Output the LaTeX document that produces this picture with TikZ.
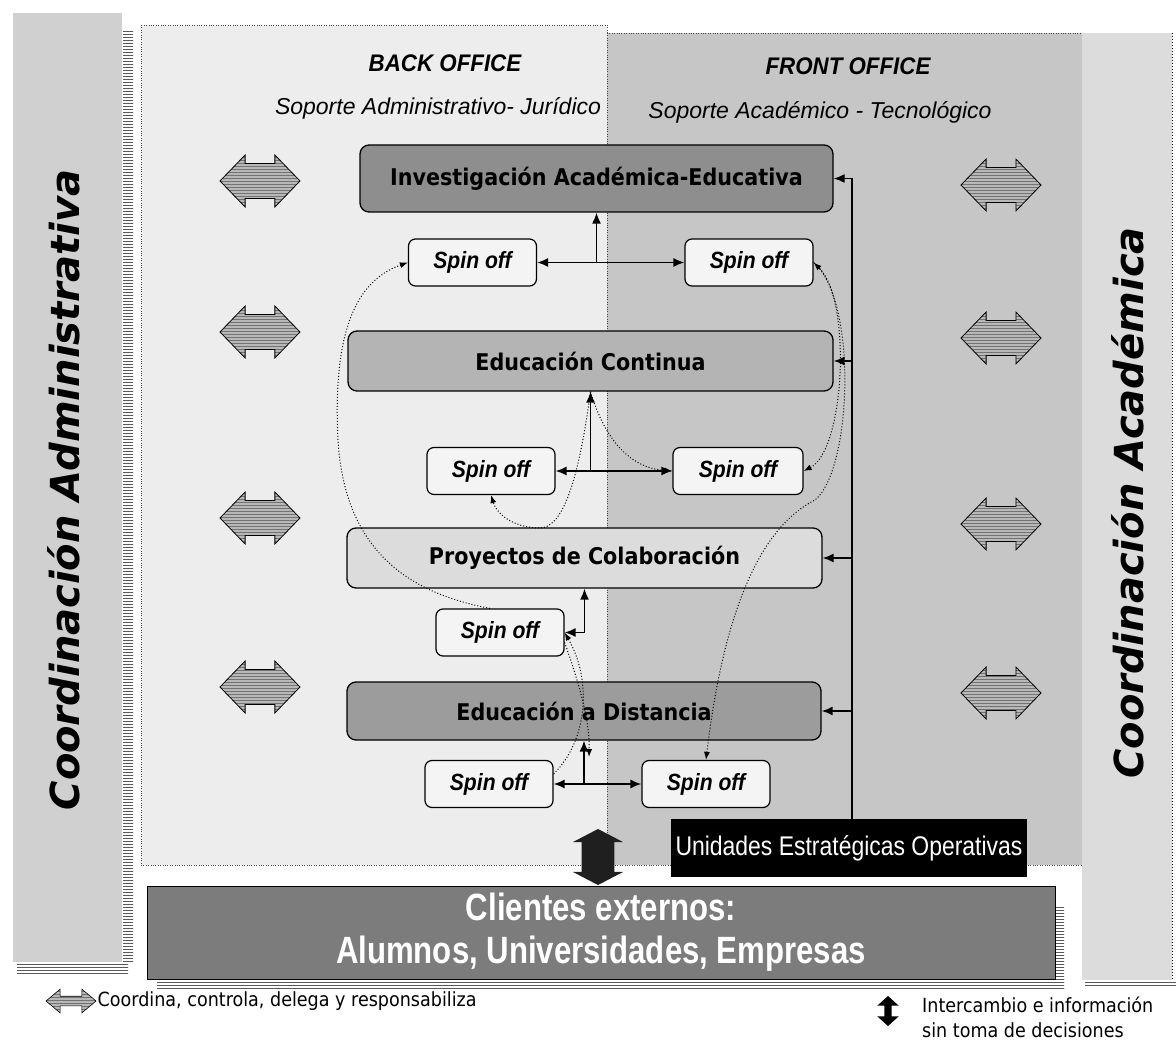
\documentclass[tikz,border=0pt]{standalone}
\usepackage{fontspec}
\usepackage{tikz}
\usetikzlibrary{arrows,shapes,positioning,patterns}
\usetikzlibrary{arrows.meta}
\setmainfont{DejaVu Sans}
\newfontface\boxfont[FakeStretch=0.9]{DejaVu Sans Bold}
\newfontface\legfont[FakeStretch=0.9]{DejaVu Sans}
\newfontface\bandfont{DejaVu Sans Bold Oblique}
\newfontface\spinfont[FakeStretch=0.9]{Liberation Sans Bold Italic}
\newfontface\headfont[FakeStretch=0.93]{Liberation Sans Bold Italic}
\newfontface\subfont{Liberation Sans Italic}
\newfontface\narrowbold[FakeStretch=0.82]{Liberation Sans Bold}
\newfontface\narrowfont[FakeStretch=0.85]{Liberation Sans}

\definecolor{backGray}{HTML}{EDEDED}
\definecolor{frontGray}{HTML}{C6C6C6}
\definecolor{bandGray}{HTML}{D0D0D0}
\definecolor{rightGray}{HTML}{DCDCDC}
\definecolor{invGray}{HTML}{8E8E8E}
\definecolor{edcGray}{HTML}{B4B4B4}
\definecolor{proGray}{HTML}{DCDCDC}
\definecolor{edsGray}{HTML}{9C9C9C}
\definecolor{spinWhite}{HTML}{F4F4F4}
\definecolor{cliGray}{HTML}{7C7C7C}
\definecolor{arrowGray}{HTML}{B8B8B8}

\tikzstyle{unitBox}=[draw, line width=1.3pt, rounded corners=9pt, minimum height=60pt, inner sep=0pt, font={\boxfont\fontsize{23}{27}\selectfont}]
\tikzstyle{spinBox}=[draw, line width=1.2pt, rounded corners=7pt, fill=spinWhite, minimum width=128pt, minimum height=47pt, inner sep=0pt, font={\spinfont\fontsize{23.5}{27}\selectfont}]
\tikzstyle{stateArc}=[line width=1.6pt, -{Latex[length=11pt,width=9pt]}]
\tikzstyle{stateBoth}=[line width=1.6pt, {Latex[length=11pt,width=9pt]}-{Latex[length=11pt,width=9pt]}]
\tikzstyle{spinArc}=[line width=1pt, dotted, -{Latex[length=8pt,width=6pt]}]
\tikzstyle{spinBoth}=[line width=1pt, dotted, {Latex[length=8pt,width=6pt]}-{Latex[length=8pt,width=6pt]}]
\tikzstyle{coordArrow}=[double arrow, draw, line width=0.8pt, double arrow tip angle=92, minimum width=52pt, minimum height=80pt, inner xsep=0pt, inner ysep=14pt, preaction={fill=arrowGray}, pattern=horizontal lines, pattern color=black!55]
\tikzstyle{xchArrow}=[double arrow, rotate=90, fill=black!88, inner xsep=0pt]
\tikzstyle{stripes}=[pattern=horizontal lines, pattern color=black!65]

\begin{document}
\begin{tikzpicture}[x=1pt, y=-1pt]
    \useasboundingbox (0,0) rectangle (1176,1040);
    \fill[white] (0,0) rectangle (1176,1040);

    % panels
    \fill[bandGray] (13,13) rectangle (122,962);
    \fill[stripes] (123,30) rectangle (133,962);
    \fill[stripes] (17,963) rectangle (128,973);
    \filldraw[fill=backGray, draw=black!70, dotted] (141,25) rectangle (607,865);
    \filldraw[fill=frontGray, draw=black!70, dotted] (607,33) rectangle (1082,865);
    \fill[rightGray] (1082,33) rectangle (1172,980);
    \draw[dotted, line width=1pt] (1172,33) -- (1172,980);
    \fill[stripes] (1085,980) rectangle (1176,987);

    % titles
    \node[font={\headfont\fontsize{24}{28}\selectfont}] (bo) at (445,63) {BACK OFFICE};
    \node[font={\subfont\fontsize{23}{27}\selectfont}] (bos) at (438,108) {Soporte Administrativo- Jurídico};
    \node[font={\headfont\fontsize{24}{28}\selectfont}] (fo) at (848,66) {FRONT OFFICE};
    \node[font={\subfont\fontsize{23}{27}\selectfont}] (fos) at (820,112) {Soporte Académico - Tecnológico};
    \node[rotate=90, font={\bandfont\fontsize{40}{48}\selectfont}] (cad) at (64,490) {Coordinación Administrativa};
    \node[rotate=90, font={\bandfont\fontsize{40}{48}\selectfont}] (cac) at (1128,503) {Coordinación Académica};

    % coordination arrows
    \node[coordArrow] (la1) at (260,181) {};
    \node[coordArrow] (la2) at (260,332) {};
    \node[coordArrow] (la3) at (260,518) {};
    \node[coordArrow] (la4) at (260,687) {};
    \node[coordArrow] (ra1) at (1001,185) {};
    \node[coordArrow] (ra2) at (1001,338) {};
    \node[coordArrow] (ra3) at (1001,524) {};
    \node[coordArrow] (ra4) at (1001,693) {};

    % nodes
    \node[unitBox, fill=invGray, minimum width=473pt, minimum height=67pt] (inv) at (596.5,178.5) {Investigación Académica-Educativa};
    \node[spinBox] (sp1) at (472.5,262.5) {Spin off};
    \node[spinBox] (sp2) at (749,262.5) {Spin off};
    \node[unitBox, fill=edcGray, minimum width=485pt] (edc) at (590.5,361) {Educación Continua};
    \node[spinBox] (sp3) at (491,471) {Spin off};
    \node[spinBox, minimum width=130pt] (sp4) at (738,471) {Spin off};
    \node[unitBox, fill=proGray, minimum width=475pt] (pro) at (584.5,558) {Proyectos de Colaboración};
    \node[spinBox] (sp5) at (500,632.5) {Spin off};
    \node[unitBox, fill=edsGray, minimum width=474pt, minimum height=58pt] (eds) at (584,711) {Educación a Distancia};
    \node[spinBox] (sp6) at (489,784) {Spin off};
    \node[spinBox] (sp7) at (706,784) {Spin off};
    \node[fill=black, text=white, minimum width=356pt, minimum height=58pt, inner sep=0pt, font={\narrowfont\fontsize{27}{31}\selectfont}] (ueo) at (849,848) {Unidades Estratégicas Operativas};

    % clients
    \fill[stripes] (1055,905) rectangle (1064,988);
    \fill[stripes] (157,979) rectangle (1064,988);
    \node[draw, line width=1pt, fill=cliGray, text=white, align=center, minimum width=908pt, minimum height=93pt, inner sep=0pt, font={\narrowbold\fontsize{38}{43}\selectfont}] (cli) at (601,932.5) {Clientes externos:\\Alumnos, Universidades, Empresas};
    \node[xchArrow, double arrow tip angle=125, minimum width=50pt, minimum height=56pt, inner ysep=13.5pt] (xch) at (598,857) {};

    % Arcs
    \draw[stateBoth] (sp1) -- (sp2);
    \draw[stateArc] (inv.south |- sp1) -- (inv.south);
    \draw[stateBoth] (sp3) -- (sp4);
    \draw[stateArc] (edc.south |- sp3) -- (edc.south);
    \draw[stateBoth] (sp5) -| (pro.south);
    \draw[stateBoth] (sp6) -- (sp7);
    \draw[stateArc] (eds.south |- sp6) -- (eds.south);

    \coordinate (bus) at (852,819);
    \draw[line width=1.3pt] (bus) -- (bus |- inv.east);
    \draw[stateArc] (bus |- inv.east) -- (inv.east);
    \draw[stateArc] (bus |- edc.east) -- (edc.east);
    \draw[stateArc] (bus |- pro.east) -- (pro.east);
    \draw[stateArc] (bus |- eds.east) -- (eds.east);

    % dotted links
    \draw[spinArc] ([xshift=-10pt]sp5.north) .. controls (420,595) and (345,560) .. (338,440) .. controls (333,340) and (352,282) .. (sp1.west);
    \draw[spinArc] (edc.south) .. controls (580,470) and (565,528) .. (540,528) .. controls (515,528) and (497,515) .. (sp3.south);
    \draw[spinArc] (edc.south) .. controls (605,440) and (630,468) .. (sp4.west);
    \draw[spinBoth] (sp4.east) .. controls (845,450) and (852,300) .. (sp2.east);
    \draw[spinArc] (sp2.east) .. controls (858,300) and (852,470) .. (815,500) .. controls (765,525) and (725,600) .. (sp7.north);
    \coordinate (dd) at (589,757);
    \draw[spinArc] ([yshift=-10pt]sp5.east) .. controls (578,680) and (590,720) .. (dd);
    \draw[spinArc] ([yshift=10pt]sp6.east) .. controls (588,740) and (592,680) .. (sp5.east);

    % legend
    \node[coordArrow, line width=0.6pt, minimum width=20pt, minimum height=50pt, inner ysep=4.5pt, double arrow tip angle=80] (lgA) at (71,1001) {};
    \node[anchor=west, inner sep=1pt, font={\legfont\fontsize{19.5}{23}\selectfont}] (lgAt) at (lgA.east) {Coordina, controla, delega y responsabiliza};
    \node[xchArrow, fill=black, double arrow tip angle=96, minimum width=20pt, minimum height=30pt, inner ysep=3.5pt] (lgB) at (888,1011) {};
    \node[anchor=west, align=left, inner sep=0pt, font={\legfont\fontsize{19.5}{25}\selectfont}] (lgBt) at (922,1017) {Intercambio e información\\sin toma de decisiones};

\end{tikzpicture}
\end{document}
